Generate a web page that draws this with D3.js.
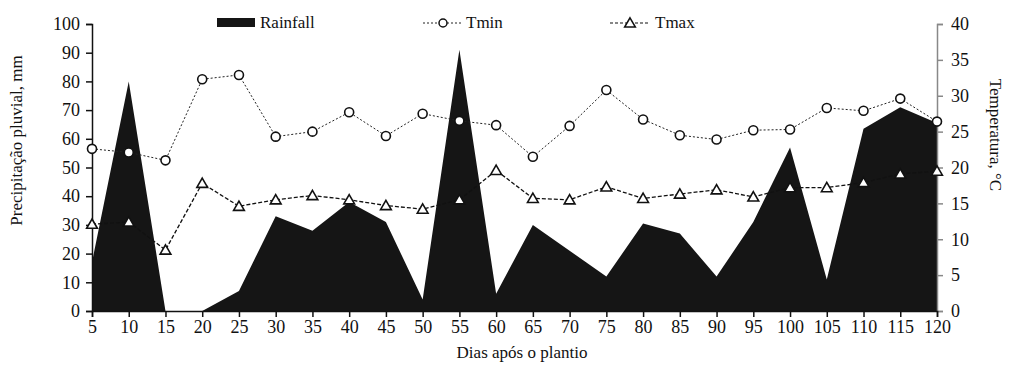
<!DOCTYPE html>
<html>
<head>
<meta charset="utf-8">
<script src="https://cdn.jsdelivr.net/npm/d3@7"></script>
<style>
  body { margin: 0; background: #fff; }
  svg text { font-family: "Liberation Serif", "Times New Roman", serif; fill: #111; }
</style>
</head>
<body>
<div id="chart"></div>
<script>
const days = [5,10,15,20,25,30,35,40,45,50,55,60,65,70,75,80,85,90,95,100,105,110,115,120];
const rainfall = [17,80,0,0,7,33,28,38,31,4,91,6,30,21,12,30.5,27,12,31,57,11,63.5,71,65.5];
const tmin = [22.6,22.1,21,32.3,32.9,24.3,25,27.7,24.4,27.5,26.5,25.9,21.5,25.8,30.8,26.7,24.5,23.9,25.2,25.3,28.3,27.9,29.6,26.4];
const tmax = [12.1,12.4,8.5,17.8,14.6,15.5,16.1,15.5,14.7,14.2,15.5,19.6,15.7,15.5,17.3,15.7,16.3,16.9,15.9,17.2,17.2,17.9,19.1,19.5];
const leftTicks = d3.range(0, 101, 10);
const rightTicks = d3.range(0, 41, 5);

const width = 1009, height = 365;
const margin = {top: 24, right: 72, bottom: 54, left: 92};

const svg = d3.select("#chart")
  .append("svg")
  .attr("width", width)
  .attr("height", height);

const x = d3.scaleLinear().domain([5, 120]).range([margin.left, width - margin.right]);
const yL = d3.scaleLinear().domain([0, 100]).range([height - margin.bottom, margin.top]);
const yR = d3.scaleLinear().domain([0, 40]).range([height - margin.bottom, margin.top]);

// rainfall area
svg.append("path")
  .datum(days.map((d, i) => [d, rainfall[i]]))
  .attr("fill", "#151515")
  .attr("d", d3.area().x(d => x(d[0])).y0(yL(0)).y1(d => yL(d[1])));

// axes
const fontSize = 18;
svg.append("g")
  .attr("transform", `translate(${margin.left},0)`)
  .call(d3.axisLeft(yL).tickValues(leftTicks).tickSize(6).tickPadding(6))
  .call(g => g.selectAll("text").attr("font-size", fontSize))
  .call(g => g.selectAll("path,line").attr("stroke", "#111").attr("stroke-width", 1.5));

svg.append("g")
  .attr("transform", `translate(${width - margin.right},0)`)
  .call(d3.axisRight(yR).tickValues(rightTicks).tickSize(6).tickPadding(8))
  .call(g => g.selectAll("text").attr("font-size", fontSize))
  .call(g => g.selectAll("path,line").attr("stroke", "#888").attr("stroke-width", 1.5));

svg.append("g")
  .attr("transform", `translate(0,${height - margin.bottom})`)
  .call(d3.axisBottom(x).tickValues(days).tickFormat(d3.format("d")).tickSize(6).tickPadding(3))
  .call(g => g.selectAll("text").attr("font-size", fontSize))
  .call(g => g.selectAll("path,line").attr("stroke", "#111").attr("stroke-width", 1.5));

// temperature lines
const lineR = d3.line().x(d => x(d[0])).y(d => yR(d[1]));
const tminPts = days.map((d, i) => [d, tmin[i]]);
const tmaxPts = days.map((d, i) => [d, tmax[i]]);

svg.append("path").datum(tminPts)
  .attr("fill", "none").attr("stroke", "#222").attr("stroke-width", 1)
  .attr("stroke-dasharray", "2,2").attr("d", lineR);
svg.append("path").datum(tmaxPts)
  .attr("fill", "none").attr("stroke", "#111").attr("stroke-width", 1.3)
  .attr("stroke-dasharray", "4,2").attr("d", lineR);

const tri = d3.symbol().type(d3.symbolTriangle).size(50);

svg.append("g").selectAll("circle")
  .data(tminPts).join("circle")
  .attr("cx", d => x(d[0])).attr("cy", d => yR(d[1])).attr("r", 4.5)
  .attr("fill", "#fff").attr("stroke", "#111").attr("stroke-width", 1.6);

svg.append("g").selectAll("path")
  .data(tmaxPts).join("path")
  .attr("transform", d => `translate(${x(d[0])},${yR(d[1]) + 1})`)
  .attr("d", tri)
  .attr("fill", "#fff").attr("stroke", "#111").attr("stroke-width", 1.6);

// axis titles
svg.append("text")
  .attr("transform", `translate(22,${(margin.top + height - margin.bottom) / 2 - 27}) rotate(-90)`)
  .attr("text-anchor", "middle")
  .attr("font-size", 17)
  .text("Precipitação pluvial, mm");

svg.append("text")
  .attr("transform", `translate(990,135) rotate(90)`)
  .attr("text-anchor", "middle")
  .attr("font-size", 17)
  .text("Temperatura, °C");

svg.append("text")
  .attr("x", 522).attr("y", 358)
  .attr("text-anchor", "middle")
  .attr("font-size", 17)
  .text("Dias após o plantio");

// legend
const leg = svg.append("g").attr("font-size", 17);
leg.append("rect").attr("x", 217).attr("y", 18).attr("width", 38).attr("height", 9).attr("fill", "#151515");
leg.append("text").attr("x", 260).attr("y", 28).text("Rainfall");

leg.append("line").attr("x1", 423).attr("x2", 462).attr("y1", 23).attr("y2", 23)
  .attr("stroke", "#222").attr("stroke-dasharray", "2,2");
leg.append("circle").attr("cx", 443).attr("cy", 23).attr("r", 4)
  .attr("fill", "#fff").attr("stroke", "#111").attr("stroke-width", 1.5);
leg.append("text").attr("x", 466).attr("y", 28).text("Tmin");

leg.append("line").attr("x1", 610).attr("x2", 650).attr("y1", 23).attr("y2", 23)
  .attr("stroke", "#111").attr("stroke-width", 1.2).attr("stroke-dasharray", "3,2");
leg.append("path").attr("transform", "translate(630,24)").attr("d", tri)
  .attr("fill", "#fff").attr("stroke", "#111").attr("stroke-width", 1.5);
leg.append("text").attr("x", 655).attr("y", 28).text("Tmax");
</script>
</body>
</html>
